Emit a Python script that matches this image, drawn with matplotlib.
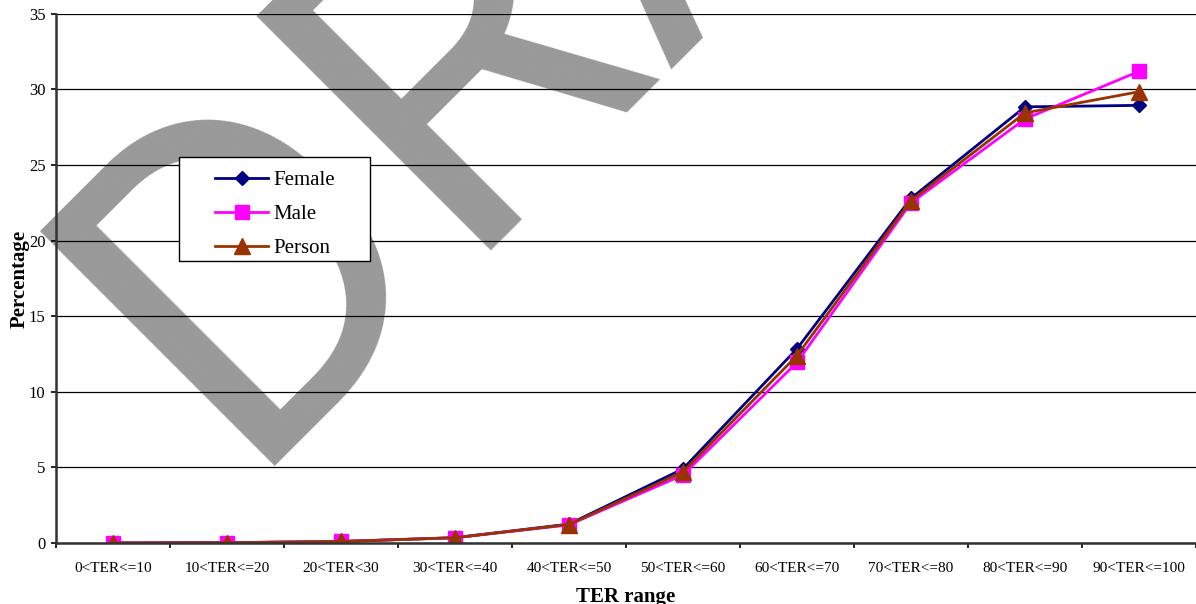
import matplotlib
matplotlib.use("Agg")
import matplotlib.pyplot as plt
from matplotlib.patches import Rectangle
import numpy as np

# TER 구간별 성별 분포 (%)
categories = ["0<TER<=10", "10<TER<=20", "20<TER<30", "30<TER<=40", "40<TER<=50",
              "50<TER<=60", "60<TER<=70", "70<TER<=80", "80<TER<=90", "90<TER<=100"]
female = [0.0, 0.02, 0.1, 0.35, 1.25, 4.9, 12.85, 22.8, 28.85, 28.95]
male = [0.0, 0.02, 0.1, 0.35, 1.2, 4.5, 11.95, 22.5, 28.05, 31.2]
person = [0.0, 0.02, 0.1, 0.35, 1.22, 4.7, 12.4, 22.65, 28.45, 29.85]
y_ticks = [0, 5, 10, 15, 20, 25, 30, 35]

plt.rcParams['font.family'] = ['Liberation Serif', 'DejaVu Serif']

fig = plt.figure(figsize=(11.96, 6.04), dpi=100)
fig.patch.set_facecolor('white')

# 배경 워터마크 (축 뒤에 깔림)
fig.text(0.1978, 0.2284, "DRAFT", fontsize=336, family='Roboto',
         color='#999999', rotation=45, rotation_mode='anchor',
         ha='left', va='baseline', zorder=-1)

ax = fig.add_axes([0.0468, 0.101, 0.9532, 0.876])
ax.patch.set_alpha(0)

x = np.arange(len(categories))
ax.plot(x, female, color='#000080', lw=2, marker='D', ms=7.5, label='Female')
ax.plot(x, male, color='#FF00FF', lw=2, marker='s', ms=10.5, label='Male')
ax.plot(x, person, color='#993300', lw=2, marker='^', ms=11, label='Person')

ax.set_xlim(-0.5, len(categories) - 0.5)
ax.set_ylim(0, 35)
ax.set_yticks(y_ticks)
ax.set_xticks(x)
ax.set_xticklabels(categories, fontsize=11)
ax.set_xticks(np.arange(-0.5, len(categories)), minor=True)
ax.tick_params(axis='x', which='major', length=0, pad=14)
ax.tick_params(axis='x', which='minor', length=3.6, width=1.2, direction='out')
ax.tick_params(axis='y', length=3.6, width=1.2, labelsize=12, pad=4)

ax.grid(axis='y', color='black', lw=0.9)
ax.set_axisbelow(True)
for side in ['top', 'right']:
    ax.spines[side].set_visible(False)
for side in ['left', 'bottom']:
    ax.spines[side].set_linewidth(1.8)
    ax.spines[side].set_color('#333333')

ax.set_xlabel("TER range", fontsize=15, fontweight='bold', labelpad=8)
ax.set_ylabel("Percentage", fontsize=15, fontweight='bold', labelpad=-1)

# 범례 상자
ax.add_patch(Rectangle((0.1079, 0.5331), 0.1675, 0.1966, transform=ax.transAxes,
                       facecolor='white', edgecolor='black', lw=1, zorder=4))
leg = ax.legend(loc='upper left', bbox_to_anchor=(0.1395, 0.7039), fontsize=15,
                frameon=False, handlelength=2.55, borderpad=0, labelspacing=0.69,
                handletextpad=0.24, borderaxespad=0)
leg.set_zorder(5)

fig.savefig("out.png", dpi=100)
